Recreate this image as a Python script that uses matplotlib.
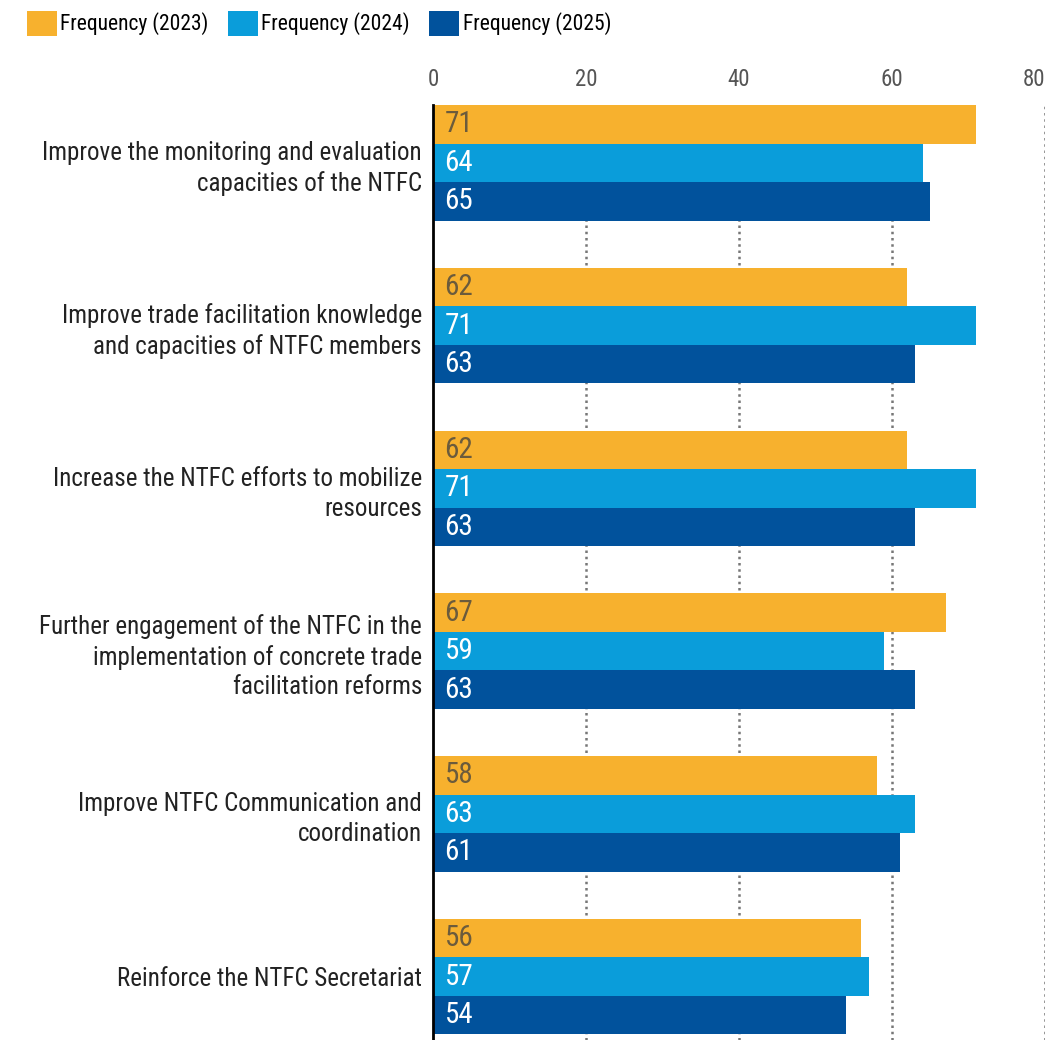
import matplotlib
matplotlib.use('Agg')
import matplotlib.pyplot as plt
import numpy as np

plt.rcParams['font.family'] = ['Roboto Condensed', 'Liberation Sans Narrow', 'DejaVu Sans']

categories = [
    'Improve the monitoring and evaluation\ncapacities of the NTFC',
    'Improve trade facilitation knowledge\nand capacities of NTFC members',
    'Increase the NTFC efforts to mobilize\nresources',
    'Further engagement of the NTFC in the\nimplementation of concrete trade\nfacilitation reforms',
    'Improve NTFC Communication and\ncoordination',
    'Reinforce the NTFC Secretariat',
]
series_names = ['Frequency (2023)', 'Frequency (2024)', 'Frequency (2025)']
freq_2023 = [71, 62, 62, 67, 58, 56]
freq_2024 = [64, 71, 71, 59, 63, 57]
freq_2025 = [65, 63, 63, 63, 61, 54]
x_ticks = [0, 20, 40, 60, 80]

colors = ['#F7B12E', '#0A9DDA', '#01529C']
label_colors = ['#6B5B3C', 'white', 'white']

fig = plt.figure(figsize=(10.63, 10.40), dpi=100)
ax = fig.add_axes([433 / 1063, 0, 612 / 1063, 935 / 1040])

y = np.arange(len(categories))
h = 0.237
allvals = [freq_2023, freq_2024, freq_2025]
for k, vals in enumerate(allvals):
    ypos = y + (k - 1) * h
    ax.barh(ypos, vals, height=h, color=colors[k], zorder=3,
            label=series_names[k])
    for yy, v in zip(ypos, vals):
        ax.text(1.5, yy, str(v), color=label_colors[k], fontsize=21,
                va='center', ha='left', zorder=4)

ax.set_xlim(0, 80)
ax.set_ylim(len(categories) - 1 + 0.39, -0.356)
ax.set_xticks(x_ticks)
ax.xaxis.tick_top()
ax.tick_params(axis='x', length=0, pad=10, labelsize=16.5, labelcolor='#555555')
ax.get_xticklabels()[-1].set_horizontalalignment('right')
ax.set_yticks(y)
ax.set_yticklabels(categories, fontsize=18, color='#222222', linespacing=1.3)
ax.tick_params(axis='y', length=0, pad=8)

for s in ['top', 'right', 'bottom']:
    ax.spines[s].set_visible(False)
ax.spines['left'].set_color('black')
ax.spines['left'].set_linewidth(2)
ax.spines['left'].set_zorder(5)

ax.grid(axis='x', linestyle=(0, (1, 1.5)), color='#777777', linewidth=1.8, zorder=0)
ax.xaxis.get_gridlines()[0].set_visible(False)

fig.legend(loc='upper left', bbox_to_anchor=(0.015, 1.0), ncol=3, frameon=False,
           fontsize=15.5, handlelength=1.4, handleheight=1.4, handletextpad=0.15,
           columnspacing=0.9, borderaxespad=0.1)

fig.savefig('out.png', dpi=100)
